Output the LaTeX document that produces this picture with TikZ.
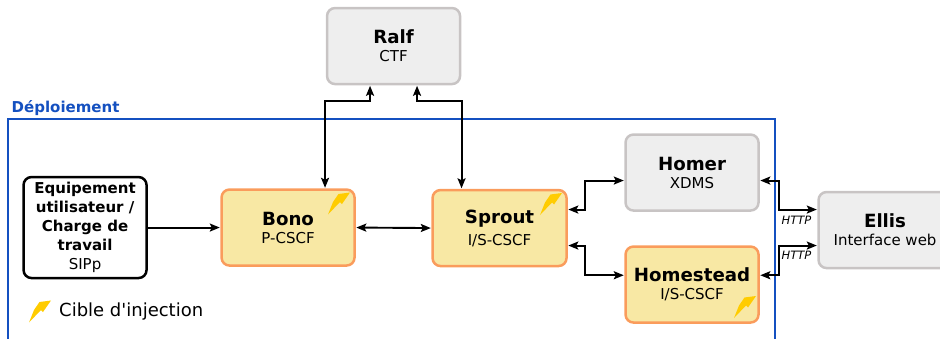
\documentclass[tikz,border=0pt]{standalone}
\usepackage{fontspec}
\setmainfont{DejaVu Sans}
\newfontfamily\plainfont{DejaVu Sans}
\usetikzlibrary{arrows.meta}
\definecolor{grayfill}{HTML}{EEEEEE}
\definecolor{graydraw}{HTML}{C8C4C4}
\definecolor{yelfill}{HTML}{F8E8A4}
\definecolor{orgdraw}{HTML}{FA9C5C}
\definecolor{depblue}{HTML}{1450C0}
\definecolor{boltc}{HTML}{FFCC00}
\tikzset{
  x=1pt,y=-1pt,
  box/.style={draw,rounded corners=8pt,line width=2.5pt,minimum width=#1,minimum height=76pt,inner sep=0pt,align=center,anchor=north west},
  box/.default=133pt,
  graybox/.style={box,draw=graydraw,fill=grayfill},
  corebox/.style={box,draw=orgdraw,fill=yelfill},
  userbox/.style={box=123pt,draw=black,fill=white,minimum height=101pt},
  conn/.style={line width=1.9pt,-{Stealth[length=10pt,width=8pt,inset=2pt]},black,shorten >=0.5pt},
  bidir/.style={line width=1.9pt,{Stealth[length=10pt,width=8pt,inset=2pt]}-{Stealth[length=10pt,width=8pt,inset=2pt]},black,shorten >=0.5pt,shorten <=0.5pt},
  proto/.style={inner sep=0pt,font=\fontsize{11.5}{13}\selectfont\itshape},
  boltshape/.pic={\fill[boltc] (10.5,-20.5)--(22,-22)--(14,-10.5)--(12,-12.5)--(0,0)--(5,-12.5)--cycle;}
}
\newcommand{\two}[2]{{\fontsize{18.2}{21}\selectfont\bfseries #1}\\[6pt]{\fontsize{15}{17}\selectfont #2}}
\begin{document}
\begin{tikzpicture}
\useasboundingbox (0,0) rectangle (940,338);
\clip (0,0) rectangle (940,338);
\node[anchor=south west,inner sep=0pt,text=depblue,font=\fontsize{15}{17}\selectfont\bfseries] (deploy) at (11.5,115.5) {Déploiement};
\draw[depblue,line width=2.5pt] (8,345) -- (8,119) -- (775,119) -- (775,345);
\node[graybox] (ralf) at (325.8,6.8) {\two{Ralf}{CTF}};
\node[corebox] (bono) at (220.3,188.3) {\two{Bono}{P-CSCF}};
\node[corebox,minimum width=134pt] (sprout) at (431.3,188.8) {\two{Sprout}{I/S-CSCF}};
\node[graybox] (homer) at (624.3,133.3) {\two{Homer}{XDMS}};
\node[corebox] (homestead) at (624.3,245.3) {\two{Homestead}{I/S-CSCF}};
\node[graybox] (ellis) at (817.3,190.8) {\two{Ellis}{Interface web}};
\node[userbox,font=\fontsize{15}{19}\selectfont] (user) at (22.3,175.8) {\bfseries Equipement\\\bfseries utilisateur /\\\bfseries Charge de\\\bfseries travail\\\fontsize{15}{19}\selectfont SIPp};
\pic at (29,322.5) {boltshape};
\pic at (328,214.5) {boltshape};
\pic at (540,215) {boltshape};
\pic at (734,318) {boltshape};
\node[anchor=west,inner sep=0pt,font=\fontsize{18}{20}\plainfont\selectfont] (legend) at (59,312) {Cible d'injection};
\draw[conn] (user.east) -- (bono.west);
\draw[bidir] (bono.east) -- (sprout.west);
\draw[bidir] ([xshift=-23.5pt]ralf.south) -- ++(0,16) -| ([xshift=37pt]bono.north);
\draw[bidir] ([xshift=23.5pt]ralf.south) -- ++(0,16) -| ([xshift=-38pt]sprout.north);
\draw[bidir] ([yshift=18.5pt]sprout.east) -- ++(17,0) |- ([yshift=-8pt]homer.west);
\draw[bidir] ([yshift=-17.5pt]sprout.east) -- ++(17,0) |- ([yshift=9.3pt]homestead.west);
\draw[bidir] ([yshift=-8pt]homer.east) -- ++(19,0) |- ([yshift=20.5pt]ellis.west);
\draw[bidir] ([yshift=9.3pt]homestead.east) -- ++(19,0) |- ([yshift=-15.5pt]ellis.west);
\node[proto] (http1) at (796.5,220.5) {HTTP};
\node[proto] (http2) at (796.5,255) {HTTP};
\end{tikzpicture}
\end{document}
